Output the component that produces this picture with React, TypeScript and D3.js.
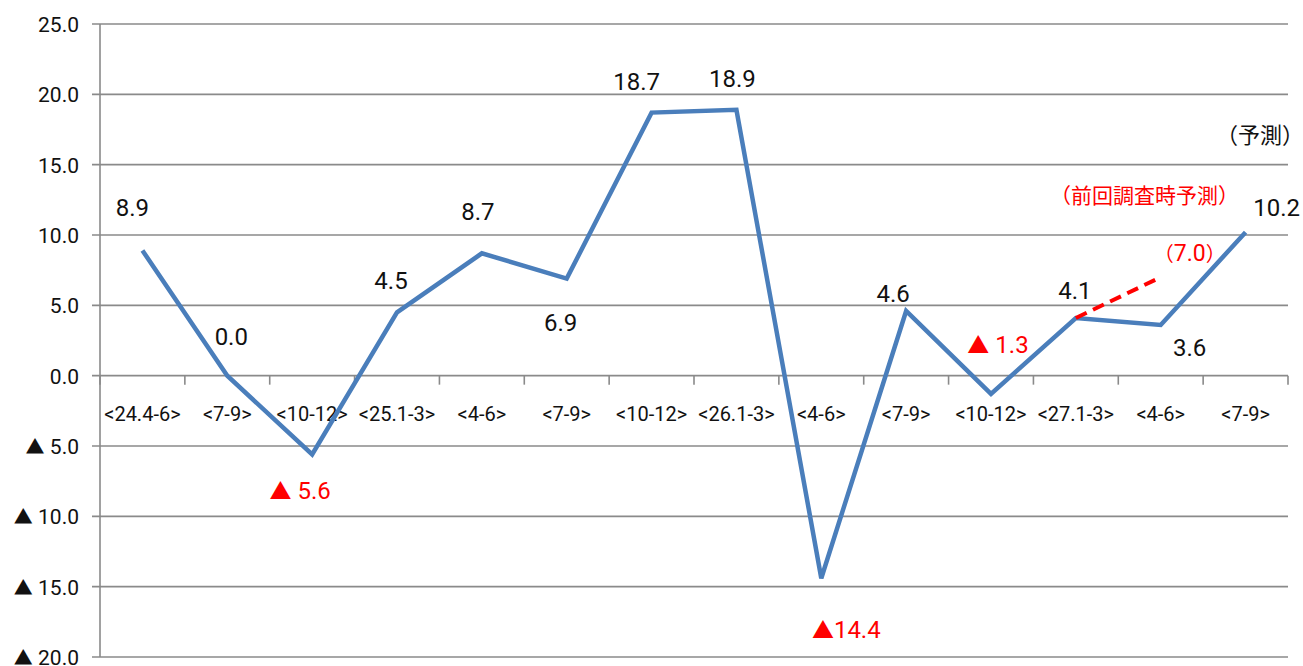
import React from "react";
import * as d3 from "d3";

const categories = ["<24.4-6>", "<7-9>", "<10-12>", "<25.1-3>", "<4-6>", "<7-9>", "<10-12>", "<26.1-3>", "<4-6>", "<7-9>", "<10-12>", "<27.1-3>", "<4-6>", "<7-9>"];
const values = [8.9, 0.0, -5.6, 4.5, 8.7, 6.9, 18.7, 18.9, -14.4, 4.6, -1.3, 4.1, 3.6, 10.2];
const prevForecastFrom = 4.1;
const prevForecastValue = 7.0;
const yTicks = [25, 20, 15, 10, 5, 0, -5, -10, -15, -20];
const forecastLabel = "（予測）";
const prevForecastLabel = "（前回調査時予測）";

// label offsets (style) relative to points
const labelOffsets: [number, number][] = [
  [-10, -43], [4, -39], [-12, 36], [-6, -32], [-4, -42], [-6, 44], [-15, -31],
  [-4, -31], [25, 51], [-13, -17], [7, -49], [-1, -27], [29, 22], [31, -25],
];

const W = 1303, H = 666;
const left = 100, right = 1288, top = 24, bottom = 657;
const NUM = "Roboto, 'Liberation Sans', sans-serif";
const CJK = "'Noto Sans CJK JP', sans-serif";
const BLUE = "#4A7EBB";
const RED = "#FF0000";
const GRID = "#8a8a8a";

export default function App() {
  const y = d3.scaleLinear().domain([-20, 25]).range([bottom, top]);
  const x = d3.scaleBand<number>().domain(d3.range(categories.length)).range([left, right]).paddingInner(0).paddingOuter(0);
  const cx = (i: number) => (x(i) as number) + x.bandwidth() / 2;
  const fmt = d3.format(".1f");
  const line = d3.line<number>().x((_, i) => cx(i)).y((d) => y(d));
  const y0 = y(0);
  const bounds = d3.range(categories.length + 1).map((i) => left + i * x.bandwidth());

  return (
    <svg width={W} height={H} style={{ position: "absolute", left: 0, top: 0, background: "#fff" }}>
      {/* gridlines */}
      {yTicks.map((t) => (
        <g key={t}>
          <line x1={left - 8} x2={right} y1={y(t)} y2={y(t)} stroke={GRID} strokeWidth={1.6} />
          <text x={79} y={y(t) + 8} textAnchor="end" fontFamily={NUM} fontSize={21} fill="#111">
            {t < 0 ? (
              <>
                <tspan fontFamily={CJK} fontSize={19}>▲</tspan>
                <tspan> {fmt(Math.abs(t))}</tspan>
              </>
            ) : (
              fmt(t)
            )}
          </text>
        </g>
      ))}
      {/* y axis */}
      <line x1={left} x2={left} y1={top} y2={bottom} stroke={GRID} strokeWidth={1.6} />
      {/* x tick marks */}
      {bounds.map((b, i) => (
        <line key={i} x1={b} x2={b} y1={y0} y2={y0 + 9} stroke={GRID} strokeWidth={1.6} />
      ))}
      {/* x labels */}
      {categories.map((c, i) => (
        <text key={i} x={cx(i)} y={421} textAnchor="middle" fontFamily={NUM} fontSize={20} fill="#111">
          {c}
        </text>
      ))}
      {/* main line */}
      <path d={line(values) || ""} fill="none" stroke={BLUE} strokeWidth={4.5} strokeLinejoin="miter" />
      {/* previous forecast dashed */}
      <line x1={cx(11)} y1={y(prevForecastFrom)} x2={cx(12)} y2={y(prevForecastValue)} stroke={RED} strokeWidth={4} strokeDasharray="12 7" />
      {/* data labels */}
      {values.map((v, i) => {
        const [dx, dy] = labelOffsets[i];
        const neg = v < 0;
        return (
          <text key={i} x={cx(i) + dx} y={y(v) + dy + 8.5} textAnchor="middle" fontFamily={NUM} fontSize={24} fill={neg ? RED : "#111"}>
            {neg ? (
              <>
                <tspan fontFamily={CJK} fontSize={22}>▲</tspan>
                <tspan>{i === 8 ? "" : " "}{fmt(Math.abs(v))}</tspan>
              </>
            ) : (
              fmt(v)
            )}
          </text>
        );
      })}
      {/* forecast value label */}
      <text x={cx(12) + 29} y={y(prevForecastValue) - 24 + 8} textAnchor="middle" fontFamily={CJK} fontSize={20} fill={RED}>
        <tspan>（</tspan>
        <tspan fontFamily={NUM} fontSize={23}>{fmt(prevForecastValue)}</tspan>
        <tspan>）</tspan>
      </text>
      <text x={1050} y={203} fontFamily={CJK} fontSize={21} fill={RED}>
        {prevForecastLabel}
      </text>
      <text x={1216} y={143} fontFamily={CJK} fontSize={22} fill="#111">
        {forecastLabel}
      </text>
    </svg>
  );
}
